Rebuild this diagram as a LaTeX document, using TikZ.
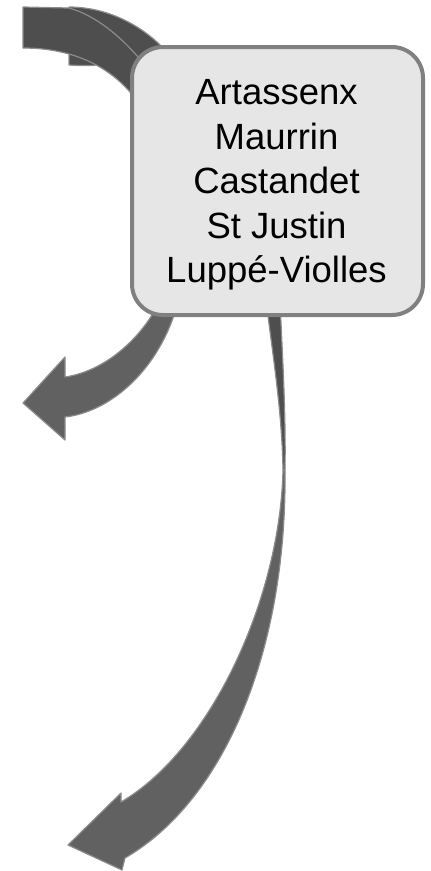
\documentclass[tikz,border=0pt]{standalone}
\usepackage{fontspec}
\setmainfont{Liberation Sans}
\usepackage{tikz}
\definecolor{bandDark}{RGB}{78,78,78}
\definecolor{bandMid}{RGB}{97,97,97}
\definecolor{bandEdge}{RGB}{140,140,140}
\definecolor{cellFill}{RGB}{230,230,230}
\definecolor{cellEdge}{RGB}{128,128,128}

\begin{document}
\begin{tikzpicture}[x=1pt, y=1pt, yscale=-1,
    band/.style={fill=bandDark, draw=bandEdge, line width=1.2pt, line join=round},
    arrowband/.style={fill=bandMid, draw=bandEdge, line width=1.2pt, line join=round},
    cell/.style={draw=cellEdge, line width=4pt, fill=cellFill, rounded corners=31pt,
      minimum width=291pt, minimum height=268pt, inner sep=0pt},
    names/.style={align=center, inner sep=0pt, font=\fontsize{36.5}{44.5}\selectfont}]
      \useasboundingbox (0,0) rectangle (431,871);

      \draw[band] (69,7) .. controls (110,7) and (148,28) .. (172,58) -- (176,82)
        -- (110,63) .. controls (100,66) and (85,66) .. (69,65) -- cycle;
      \draw[band] (23,7) -- (69,8) .. controls (95,15) and (125,38) .. (150,72)
        -- (140,105) .. controls (115,68) and (75,48) .. (23,48) -- cycle;

      \draw[arrowband] (178,302) .. controls (160,370) and (110,412) .. (65,417)
        -- (65,440) -- (23,403) -- (65,357) -- (65,377)
        .. controls (100,372) and (135,345) .. (155,310) -- cycle;

      \draw[band] (266,300) .. controls (272,350) and (282,410) .. (283,470)
        -- (285,470) .. controls (286,410) and (282,350) .. (280,300) -- cycle;
      \draw[arrowband] (285,470) .. controls (287,650) and (225,800) .. (125,858)
        -- (122,870) -- (68,845) -- (121,793) -- (121,802)
        .. controls (210,750) and (280,600) .. (283,470) -- cycle;

      \node[cell] (box) at (277.5,181) {};
      \node[names] (txt) at (276.5,185) {Artassenx\\Maurrin\\Castandet\\St Justin\\Luppé-Violles};
    \end{tikzpicture}
\end{document}
